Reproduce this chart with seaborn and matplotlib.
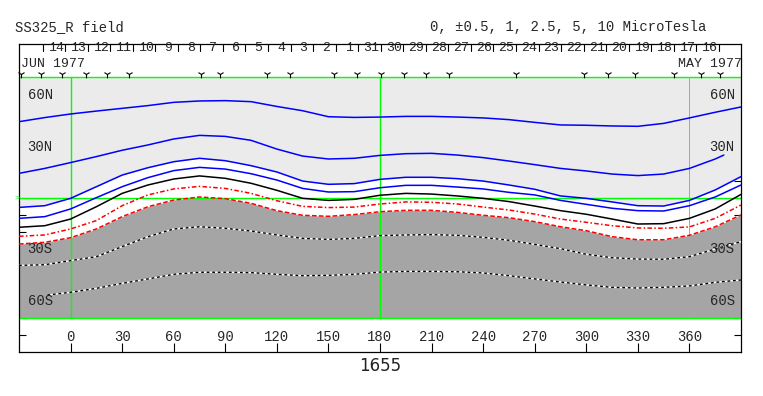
#!/usr/bin/env python3
"""
Synoptic chart of the radial field (SS325_R) for Carrington rotation 1655.
Contours of 0, +-0.5, 1, 2.5, 5 MicroTesla versus Carrington longitude.
"""

import matplotlib
matplotlib.use("Agg")
import matplotlib.pyplot as plt
import seaborn as sns

# Carrington longitude sampling of the contour readings (deg)
LON = list(range(-30, 391, 15))

# contour latitudes (deg)
LAT_P5 = [44.6, 47.0, 49.1, 50.8, 52.4, 54.0, 55.9, 56.7, 56.9, 56.3,
          53.5, 51.0, 47.5, 47.1, 47.3, 47.7, 47.7, 47.3, 46.8, 45.8,
          44.2, 42.7, 42.5, 42.1, 41.9, 43.6, 46.8, 50.1, 53.2]
LON_P25 = LON[:-1] + [380]
LAT_P25 = [14.4, 17.3, 20.7, 24.2, 27.9, 31.0, 34.5, 36.6, 36.0, 33.7,
           28.6, 24.5, 22.8, 23.2, 24.9, 25.9, 26.1, 25.1, 23.6, 21.6,
           19.5, 17.3, 15.8, 14.0, 13.1, 14.0, 17.3, 22.8, 25.1]
LAT_P1 = [-5.5, -4.5, -0.2, 6.6, 13.4, 17.7, 21.2, 23.2, 21.8, 18.9,
          15.2, 9.9, 8.0, 8.4, 10.9, 12.1, 12.1, 11.3, 9.9, 7.6,
          5.1, 1.2, -0.2, -2.3, -4.5, -4.7, -1.4, 4.7, 12.5]
LAT_P05 = [-11.9, -10.9, -6.4, 0.2, 6.6, 11.9, 16.0, 17.9, 16.9, 14.2,
           10.5, 5.6, 3.5, 3.7, 6.0, 7.4, 7.4, 6.4, 5.3, 3.3,
           1.8, -1.4, -3.7, -6.0, -7.4, -7.6, -4.5, 0.6, 7.6]
LAT_0 = [-17.1, -16.2, -12.3, -5.1, 2.7, 7.6, 11.1, 12.9, 11.5, 8.6,
         4.5, -0.2, -1.4, -0.8, 1.6, 2.7, 2.3, 1.2, -0.2, -2.1,
         -4.7, -7.4, -9.5, -12.3, -15.2, -15.0, -11.9, -6.4, 2.1]
LAT_M05 = [-22.4, -21.6, -18.1, -13.2, -4.5, 1.8, 5.3, 6.8, 5.6, 2.7,
           -1.6, -4.9, -5.6, -5.3, -3.5, -2.3, -2.5, -3.5, -5.3, -7.0,
           -9.4, -12.3, -14.2, -16.2, -17.5, -17.7, -16.9, -11.9, -4.1]
LAT_M1 = [-26.9, -25.9, -23.2, -18.1, -10.9, -5.1, -1.2, 0.6, -0.4, -3.1,
          -7.4, -10.1, -10.7, -9.7, -8.0, -7.2, -7.2, -8.4, -10.1, -11.5,
          -13.8, -16.8, -19.1, -22.6, -24.4, -24.4, -21.8, -16.8, -9.9]
LAT_M25 = [-39.4, -39.0, -36.6, -34.3, -28.4, -22.6, -18.1, -16.8, -17.7, -19.3,
           -21.6, -23.6, -24.2, -23.6, -22.0, -21.6, -21.4, -21.8, -23.0, -24.7,
           -27.1, -29.6, -32.9, -34.9, -35.7, -35.8, -34.3, -29.8, -25.5]
LON_M5 = [-13.5] + LON[2:]
LAT_M5 = [-56.7, -55.1, -52.8, -49.9, -47.3, -44.6, -43.4, -43.4, -43.6, -44.6,
          -45.4, -45.2, -44.6, -43.3, -42.9, -42.9, -43.1, -43.8, -45.4, -47.3,
          -49.1, -50.8, -52.2, -52.6, -52.2, -51.4, -49.3, -47.9]

# axis annotation
LON_TICKS = list(range(0, 361, 30))
LAT_TICKS = list(range(-80, 71, 10))
LAT_LABELS = {60: "60N", 30: "30N", -30: "30S", -60: "60S"}
DAYS = ["14", "13", "12", "11", "10", "9", "8", "7", "6", "5", "4", "3", "2", "1",
        "31", "30", "29", "28", "27", "26", "25", "24", "23", "22", "21", "20",
        "19", "18", "17", "16"]
DAY0_LON = -8.72      # longitude of the first day label
DAY_STEP = 13.115     # degrees per day
OBS_LON = [-29.1, -17.4, -4.8, 8.7, 21.3, 33.9, 75.6, 87.2, 114.4, 127.9, 153.1,
           166.7, 180.6, 193.8, 207.0, 220.0, 259.4, 298.5, 312.5, 328.6, 350.9,
           366.8, 378.0]

TOP_LAT = 70.8
BOT_LAT = -70.1
MONO = "Liberation Mono"
GREEN = "#00ff00"


def main():
    sns.set_theme(style="white")
    plt.rcParams["font.family"] = [MONO, "DejaVu Sans"]

    fig = plt.figure(figsize=(7.63, 3.96), dpi=100)
    ax = fig.add_axes([19 / 763, 44 / 396, 722 / 763, 308 / 396])
    ax.set_xlim(-30, 390)
    ax.set_ylim(-90, 90)
    ax.set_facecolor("white")

    # shaded regions: > +1 light, < -1 dark
    ax.fill_between(LON, LAT_P1, TOP_LAT, color="#ebebeb", lw=0, zorder=1)
    ax.fill_between(LON, BOT_LAT, LAT_M1, color="#a5a5a5", lw=0, zorder=1)

    # green reference lines
    for lat in (TOP_LAT, 0, BOT_LAT):
        ax.axhline(lat, color=GREEN, lw=1.0, zorder=2)
    for lon in (0, 180):
        ax.plot([lon, lon], [BOT_LAT, TOP_LAT], color=GREEN, lw=1.0, zorder=2)
    ax.plot([360, 360], [BOT_LAT, TOP_LAT], color="#55dd55", lw=0.7, zorder=2)

    # contours
    for lons, lats in ((LON, LAT_P5), (LON_P25, LAT_P25), (LON, LAT_P1), (LON, LAT_P05)):
        sns.lineplot(x=lons, y=lats, color="#0000ff", lw=1.1, ax=ax, zorder=3)
    sns.lineplot(x=LON, y=LAT_0, color="black", lw=1.1, ax=ax, zorder=3)
    sns.lineplot(x=LON, y=LAT_M05, color="#ff0000", lw=1.1,
                 linestyle=(0, (3, 1.5, 1, 1.5)), ax=ax, zorder=3)
    sns.lineplot(x=LON, y=LAT_M1, color="#ff0000", lw=1.1,
                 linestyle=(0, (3, 1.5)), ax=ax, zorder=3)
    for lons, lats in ((LON, LAT_M25), (LON_M5, LAT_M5)):
        sns.lineplot(x=lons, y=lats, color="white", lw=1.0, ax=ax, zorder=3)
        sns.lineplot(x=lons, y=lats, color="black", lw=1.0,
                     linestyle=(0, (2, 2)), ax=ax, zorder=4)

    # ticks
    ax.set_yticks(LAT_TICKS)
    ax.set_xticks(LON_TICKS)
    ax.tick_params(axis="y", direction="in", length=5, width=0.8, color="black",
                   left=True, right=True, labelleft=False)
    ax.tick_params(axis="x", direction="in", length=6.5, width=0.8, color="black",
                   bottom=True, top=False, labelbottom=False)
    ax.set_xlabel("")
    ax.set_ylabel("")
    for s in ax.spines.values():
        s.set_color("black")
        s.set_linewidth(0.9)

    for lon in LON_TICKS:
        ax.text(lon, -81.3, str(lon), ha="center", va="center", fontsize=10)
    for lat, lab in LAT_LABELS.items():
        ax.text(-25.0, lat, lab, ha="left", va="center", fontsize=10, zorder=5)
        ax.text(386.3, lat, lab, ha="right", va="center", fontsize=10, zorder=5)
    ax.text(-31.4, 0, ">", ha="center", va="center", fontsize=6, color=GREEN,
            clip_on=False)

    # day strip along the top
    for i, day in enumerate(DAYS):
        lon = DAY0_LON + i * DAY_STEP
        ax.text(lon, 87.4, day, ha="center", va="center", fontsize=9.5)
    for i in range(len(DAYS) + 1):
        lon = DAY0_LON + (i - 0.5) * DAY_STEP - 1.0
        ax.plot([lon, lon], [86.0, 90], color="black", lw=0.8, zorder=5)
    ax.text(-29.1, 78.5, "JUN 1977", ha="left", va="center", fontsize=9.5)
    ax.text(390.6, 78.5, "MAY 1977", ha="right", va="center", fontsize=9.5)
    sns.scatterplot(x=OBS_LON, y=[72.6] * len(OBS_LON), marker="1", s=30,
                    color="black", linewidth=0.8, ax=ax, zorder=5, clip_on=False)

    fig.text(15 / 763, 1 - 27 / 396, "SS325_R field", ha="left", va="center", fontsize=10)
    fig.text(430 / 763, 1 - 27 / 396, "0, \u00b10.5, 1, 2.5, 5, 10 MicroTesla",
             ha="left", va="center", fontsize=10)
    fig.text(380 / 763, 1 - 366 / 396, "1655", ha="center", va="center",
             fontsize=12, family="DejaVu Sans", color="#222222")

    fig.savefig("out.png", dpi=100)
    plt.close(fig)


if __name__ == "__main__":
    main()
